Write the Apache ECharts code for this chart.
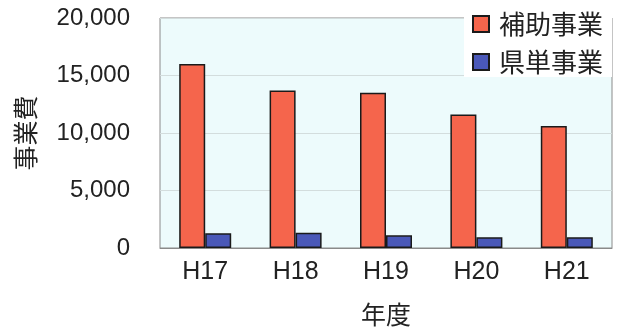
<!DOCTYPE html>
<html>
<head>
<meta charset="utf-8">
<script src="https://cdn.jsdelivr.net/npm/echarts@6/dist/echarts.min.js"></script>
<style>
html,body{margin:0;padding:0;background:#fff;}
#chart{width:617px;height:329px;}
</style>
</head>
<body>
<div id="chart"></div>
<script>
// 年度別の事業費（補助事業・県単事業）
const years = ['H17', 'H18', 'H19', 'H20', 'H21'];
const hojo = [16000, 13700, 13500, 11600, 10600];
const kentan = [1280, 1330, 1100, 930, 930];
const yTicks = [0, 5000, 10000, 15000, 20000];

const chart = echarts.init(document.getElementById('chart'));
const font = '"Noto Sans CJK JP", "Liberation Sans", sans-serif';
const latin = '"Liberation Sans", sans-serif';

chart.setOption({
  animation: false,
  textStyle: { fontFamily: font },
  grid: {
    left: 160, right: 5, top: 18, height: 230,
    outerBoundsMode: 'none',
    containLabel: false,
    show: true, backgroundColor: '#edfbfc', borderColor: '#8a8a8a', borderWidth: 1
  },
  legend: {
    orient: 'vertical', right: 5, top: 0,
    backgroundColor: '#ffffff',
    padding: [11, 9, 2, 8],
    icon: 'rect',
    itemWidth: 16, itemHeight: 16, itemGap: 12,
    textStyle: { fontSize: 26, color: '#222', fontFamily: font, padding: [0, 0, 0, 5] },
    data: ['補助事業', '県単事業']
  },
  xAxis: {
    type: 'category', data: years,
    name: '年度', nameLocation: 'middle', nameGap: 54,
    nameTextStyle: { fontSize: 25, color: '#222' },
    axisLine: { lineStyle: { color: '#8a8a8a' } },
    axisTick: { show: false },
    axisLabel: { fontSize: 25, color: '#222', margin: 12, fontFamily: latin }
  },
  yAxis: {
    type: 'value', min: yTicks[0], max: yTicks[yTicks.length - 1], interval: 5000,
    name: '事業費', nameLocation: 'middle', nameRotate: 90, nameGap: 122,
    nameTextStyle: { fontSize: 25, color: '#222' },
    axisLine: { show: false },
    axisTick: { show: false },
    splitLine: { lineStyle: { color: '#d3dddd', width: 1 } },
    axisLabel: {
      fontSize: 24, color: '#222', margin: 30,
      fontFamily: latin,
      formatter: v => v.toLocaleString('en-US')
    }
  },
  series: [
    {
      name: '補助事業', type: 'bar', data: hojo,
      barWidth: 26, barGap: '0%',
      itemStyle: { color: '#f5654c', borderColor: '#1a1a1a', borderWidth: 1.5 }
    },
    {
      name: '県単事業', type: 'bar', data: kentan,
      barWidth: 26,
      itemStyle: { color: '#4a58b8', borderColor: '#1a1a1a', borderWidth: 1.5 }
    }
  ]
});
</script>
</body>
</html>
